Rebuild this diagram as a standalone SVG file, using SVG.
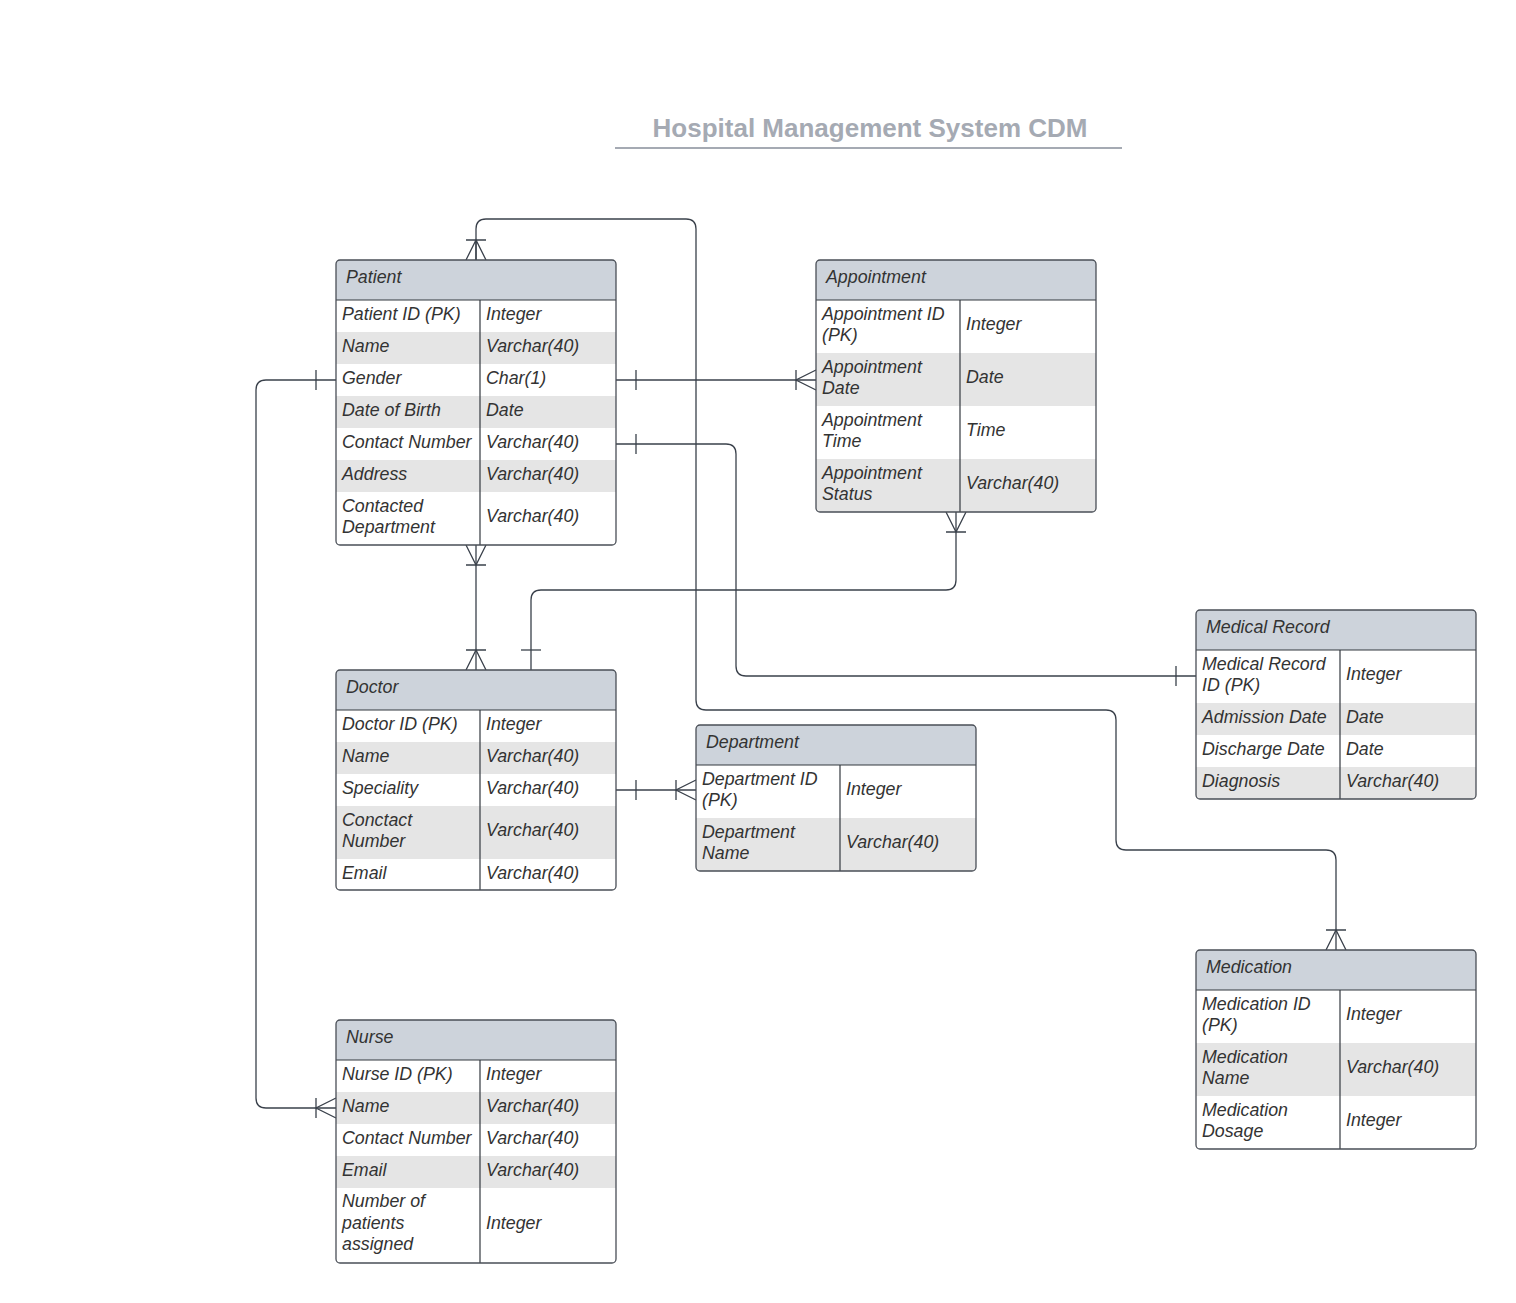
<svg xmlns="http://www.w3.org/2000/svg" width="1516" height="1303" viewBox="0 0 1516 1303">
<style>
.bg{fill:#ffffff}
.hd{fill:#cdd3db}
.sh{fill:#e5e5e5}
.bd{fill:none;stroke:#4a4f57;stroke-width:1.3}
.ln{stroke:#33383f;stroke-width:1.2}
.t{font-family:"Liberation Sans",Arial,sans-serif;font-style:italic;font-size:17.8px;fill:#333333}
.title{font-family:"Liberation Sans",Arial,sans-serif;font-weight:bold;font-size:26px;fill:#a5aab3}
.c{fill:none;stroke:#3a414b;stroke-width:1.3}
</style>
<rect width="1516" height="1303" fill="#ffffff"/>
<g id="title">
<text class="title" x="870" y="137" text-anchor="middle">Hospital Management System CDM</text>
<line x1="615" y1="148" x2="1122" y2="148" stroke="#a5aab3" stroke-width="2"/>
</g>

<g id="connectors">
<path class="c" d="M476,260 V229 Q476,219 486,219 H686 Q696,219 696,229 V700 Q696,710 706,710 H1106 Q1116,710 1116,720 V840 Q1116,850 1126,850 H1326 Q1336,850 1336,860 V950"/>
<path class="c" d="M466,260 L476,240 L486,260 M476,240 V260 M466,240 H486"/>
<path class="c" d="M1326,950 L1336,930 L1346,950 M1326,930 H1346"/>
<path class="c" d="M616,380 H816"/>
<path class="c" d="M636,370 V390"/>
<path class="c" d="M816,370 L796,380 L816,390 M796,370 V390"/>
<path class="c" d="M616,444 H726 Q736,444 736,454 V666 Q736,676 746,676 H1196"/>
<path class="c" d="M636,434 V454"/>
<path class="c" d="M1176,666 V686"/>
<path class="c" d="M476,545 V670"/>
<path class="c" d="M466,545 L476,565 L486,545 M466,565 H486"/>
<path class="c" d="M466,670 L476,650 L486,670 M466,650 H486"/>
<path class="c" d="M956,512 V580 Q956,590 946,590 H541 Q531,590 531,600 V670"/>
<path class="c" d="M946,512 L956,532 L966,512 M946,532 H966"/>
<path class="c" d="M521,650 H541"/>
<path class="c" d="M616,790 H696"/>
<path class="c" d="M636,780 V800"/>
<path class="c" d="M696,780 L676,790 L696,800 M676,780 V800"/>
<path class="c" d="M336,380 H266 Q256,380 256,390 V1098 Q256,1108 266,1108 H336"/>
<path class="c" d="M316,370 V390"/>
<path class="c" d="M336,1098 L316,1108 L336,1118 M316,1098 V1118"/>
</g>

<g id="patient">
<rect class="bg" x="336" y="260" width="280" height="285" rx="4"/>
<path class="hd" d="M336,300 V264 Q336,260 340,260 H612 Q616,260 616,264 V300 Z"/>
<rect class="sh" x="336" y="332" width="280" height="32"/>
<rect class="sh" x="336" y="396" width="280" height="32"/>
<rect class="sh" x="336" y="460" width="280" height="32"/>
<line class="ln" x1="336" y1="300" x2="616" y2="300"/>
<line class="ln" x1="480" y1="300" x2="480" y2="545"/>
<rect class="bd" x="336" y="260" width="280" height="285" rx="4"/>
<text class="t" x="346" y="283">Patient</text>
<text class="t" x="342" y="320">Patient ID (PK)</text><text class="t" x="486" y="320">Integer</text>
<text class="t" x="342" y="352">Name</text><text class="t" x="486" y="352">Varchar(40)</text>
<text class="t" x="342" y="384">Gender</text><text class="t" x="486" y="384">Char(1)</text>
<text class="t" x="342" y="416">Date of Birth</text><text class="t" x="486" y="416">Date</text>
<text class="t" x="342" y="448">Contact Number</text><text class="t" x="486" y="448">Varchar(40)</text>
<text class="t" x="342" y="480">Address</text><text class="t" x="486" y="480">Varchar(40)</text>
<text class="t" x="342" y="511.5">Contacted</text><text class="t" x="342" y="533">Department</text><text class="t" x="486" y="522">Varchar(40)</text>
</g>

<g id="appointment">
<rect class="bg" x="816" y="260" width="280" height="252" rx="4"/>
<path class="hd" d="M816,300 V264 Q816,260 820,260 H1092 Q1096,260 1096,264 V300 Z"/>
<rect class="sh" x="816" y="353" width="280" height="53"/>
<path class="sh" d="M816,459 H1096 V508 Q1096,512 1092,512 H820 Q816,512 816,508 Z"/>
<line class="ln" x1="816" y1="300" x2="1096" y2="300"/>
<line class="ln" x1="960" y1="300" x2="960" y2="512"/>
<rect class="bd" x="816" y="260" width="280" height="252" rx="4"/>
<text class="t" x="826" y="283">Appointment</text>
<text class="t" x="822" y="319.5">Appointment ID</text><text class="t" x="822" y="341">(PK)</text><text class="t" x="966" y="330">Integer</text>
<text class="t" x="822" y="372.5">Appointment</text><text class="t" x="822" y="394">Date</text><text class="t" x="966" y="383">Date</text>
<text class="t" x="822" y="425.5">Appointment</text><text class="t" x="822" y="447">Time</text><text class="t" x="966" y="436">Time</text>
<text class="t" x="822" y="478.5">Appointment</text><text class="t" x="822" y="500">Status</text><text class="t" x="966" y="489">Varchar(40)</text>
</g>

<g id="doctor">
<rect class="bg" x="336" y="670" width="280" height="220" rx="4"/>
<path class="hd" d="M336,710 V674 Q336,670 340,670 H612 Q616,670 616,674 V710 Z"/>
<rect class="sh" x="336" y="742" width="280" height="32"/>
<rect class="sh" x="336" y="806" width="280" height="53"/>
<line class="ln" x1="336" y1="710" x2="616" y2="710"/>
<line class="ln" x1="480" y1="710" x2="480" y2="890"/>
<rect class="bd" x="336" y="670" width="280" height="220" rx="4"/>
<text class="t" x="346" y="693">Doctor</text>
<text class="t" x="342" y="730">Doctor ID (PK)</text><text class="t" x="486" y="730">Integer</text>
<text class="t" x="342" y="762">Name</text><text class="t" x="486" y="762">Varchar(40)</text>
<text class="t" x="342" y="794">Speciality</text><text class="t" x="486" y="794">Varchar(40)</text>
<text class="t" x="342" y="825.5">Conctact</text><text class="t" x="342" y="847">Number</text><text class="t" x="486" y="836">Varchar(40)</text>
<text class="t" x="342" y="879">Email</text><text class="t" x="486" y="879">Varchar(40)</text>
</g>

<g id="department">
<rect class="bg" x="696" y="725" width="280" height="146" rx="4"/>
<path class="hd" d="M696,765 V729 Q696,725 700,725 H972 Q976,725 976,729 V765 Z"/>
<path class="sh" d="M696,818 H976 V867 Q976,871 972,871 H700 Q696,871 696,867 Z"/>
<line class="ln" x1="696" y1="765" x2="976" y2="765"/>
<line class="ln" x1="840" y1="765" x2="840" y2="871"/>
<rect class="bd" x="696" y="725" width="280" height="146" rx="4"/>
<text class="t" x="706" y="748">Department</text>
<text class="t" x="702" y="784.5">Department ID</text><text class="t" x="702" y="806">(PK)</text><text class="t" x="846" y="795">Integer</text>
<text class="t" x="702" y="837.5">Department</text><text class="t" x="702" y="859">Name</text><text class="t" x="846" y="848">Varchar(40)</text>
</g>

<g id="medical-record">
<rect class="bg" x="1196" y="610" width="280" height="189" rx="4"/>
<path class="hd" d="M1196,650 V614 Q1196,610 1200,610 H1472 Q1476,610 1476,614 V650 Z"/>
<rect class="sh" x="1196" y="703" width="280" height="32"/>
<path class="sh" d="M1196,767 H1476 V795 Q1476,799 1472,799 H1200 Q1196,799 1196,795 Z"/>
<line class="ln" x1="1196" y1="650" x2="1476" y2="650"/>
<line class="ln" x1="1340" y1="650" x2="1340" y2="799"/>
<rect class="bd" x="1196" y="610" width="280" height="189" rx="4"/>
<text class="t" x="1206" y="633">Medical Record</text>
<text class="t" x="1202" y="669.5">Medical Record</text><text class="t" x="1202" y="691">ID (PK)</text><text class="t" x="1346" y="680">Integer</text>
<text class="t" x="1202" y="723">Admission Date</text><text class="t" x="1346" y="723">Date</text>
<text class="t" x="1202" y="755">Discharge Date</text><text class="t" x="1346" y="755">Date</text>
<text class="t" x="1202" y="787">Diagnosis</text><text class="t" x="1346" y="787">Varchar(40)</text>
</g>

<g id="medication">
<rect class="bg" x="1196" y="950" width="280" height="199" rx="4"/>
<path class="hd" d="M1196,990 V954 Q1196,950 1200,950 H1472 Q1476,950 1476,954 V990 Z"/>
<rect class="sh" x="1196" y="1043" width="280" height="53"/>
<line class="ln" x1="1196" y1="990" x2="1476" y2="990"/>
<line class="ln" x1="1340" y1="990" x2="1340" y2="1149"/>
<rect class="bd" x="1196" y="950" width="280" height="199" rx="4"/>
<text class="t" x="1206" y="973">Medication</text>
<text class="t" x="1202" y="1009.5">Medication ID</text><text class="t" x="1202" y="1031">(PK)</text><text class="t" x="1346" y="1020">Integer</text>
<text class="t" x="1202" y="1062.5">Medication</text><text class="t" x="1202" y="1084">Name</text><text class="t" x="1346" y="1073">Varchar(40)</text>
<text class="t" x="1202" y="1115.5">Medication</text><text class="t" x="1202" y="1137">Dosage</text><text class="t" x="1346" y="1126">Integer</text>
</g>

<g id="nurse">
<rect class="bg" x="336" y="1020" width="280" height="243" rx="4"/>
<path class="hd" d="M336,1060 V1024 Q336,1020 340,1020 H612 Q616,1020 616,1024 V1060 Z"/>
<rect class="sh" x="336" y="1092" width="280" height="32"/>
<rect class="sh" x="336" y="1156" width="280" height="32"/>
<line class="ln" x1="336" y1="1060" x2="616" y2="1060"/>
<line class="ln" x1="480" y1="1060" x2="480" y2="1263"/>
<rect class="bd" x="336" y="1020" width="280" height="243" rx="4"/>
<text class="t" x="346" y="1043">Nurse</text>
<text class="t" x="342" y="1080">Nurse ID (PK)</text><text class="t" x="486" y="1080">Integer</text>
<text class="t" x="342" y="1112">Name</text><text class="t" x="486" y="1112">Varchar(40)</text>
<text class="t" x="342" y="1144">Contact Number</text><text class="t" x="486" y="1144">Varchar(40)</text>
<text class="t" x="342" y="1176">Email</text><text class="t" x="486" y="1176">Varchar(40)</text>
<text class="t" x="342" y="1207">Number of</text><text class="t" x="342" y="1228.5">patients</text><text class="t" x="342" y="1250">assigned</text><text class="t" x="486" y="1228.5">Integer</text>
</g>
</svg>
